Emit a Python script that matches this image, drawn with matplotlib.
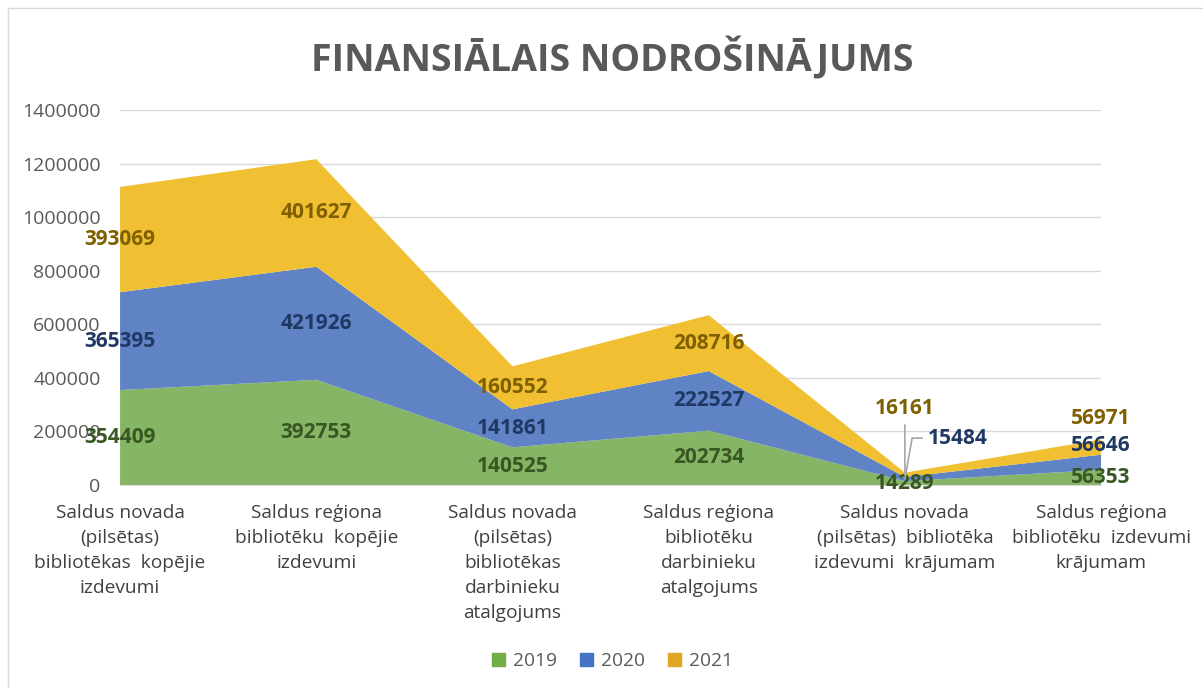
import numpy as np
import matplotlib
matplotlib.use("Agg")
import matplotlib.pyplot as plt
from matplotlib.patches import Rectangle, Patch

plt.rcParams['font.family'] = ['Open Sans', 'DejaVu Sans']

# categories (x axis), one list per year
categories = [
    "Saldus novada\n(pilsētas)\nbibliotēkas  kopējie\nizdevumi",
    "Saldus reģiona\nbibliotēku  kopējie\nizdevumi",
    "Saldus novada\n(pilsētas)\nbibliotēkas\ndarbinieku\natalgojums",
    "Saldus reģiona\nbibliotēku\ndarbinieku\natalgojums",
    "Saldus novada\n(pilsētas)  bibliotēka\nizdevumi  krājumam",
    "Saldus reģiona\nbibliotēku  izdevumi\nkrājumam",
]
years = ["2019", "2020", "2021"]
v2019 = [354409, 392753, 140525, 202734, 14289, 56353]
v2020 = [365395, 421926, 141861, 222527, 15484, 56646]
v2021 = [393069, 401627, 160552, 208716, 16161, 56971]

fill_colors = ['#86b565', '#5f83c5', '#f0c032']
legend_colors = ['#70ad47', '#4472c4', '#e0a820']
label_colors = ['#385723', '#203864', '#7f6000']

fig = plt.figure(figsize=(12.03, 6.88), dpi=100)
ax = fig.add_axes([0.0998, 0.2951, 0.8155, 0.545])

x = np.arange(len(categories))
data = np.array([v2019, v2020, v2021])
ax.stackplot(x, data, colors=fill_colors, zorder=2)

# data labels in the middle of each band
bottoms = np.vstack([np.zeros(len(x)), np.cumsum(data, axis=0)[:-1]])
# tweaks (pixels) for the crowded points
offsets = {(1, 4): (53, 41), (2, 4): (0, 66), (1, 5): (0, 17), (2, 5): (0, 29)}
for i in range(3):
    for j in range(len(x)):
        mid = bottoms[i][j] + data[i][j] / 2
        dx, dy = offsets.get((i, j), (0, 0))
        kw = {}
        if j == 4 and i == 2:
            kw['arrowprops'] = dict(arrowstyle='-', color='#a6a6a6', lw=1.2,
                                    shrinkA=2, shrinkB=0)
        elif j == 4 and i == 1:
            kw['arrowprops'] = dict(arrowstyle='-', color='#a6a6a6', lw=1.2,
                                    shrinkA=2, shrinkB=0,
                                    connectionstyle='angle,angleA=180,angleB=80,rad=0')
        ax.annotate(str(data[i][j]), (x[j], mid), xytext=(dx, dy),
                    textcoords='offset pixels', ha='center', va='center',
                    fontsize=15, fontweight='bold', color=label_colors[i],
                    zorder=5, **kw)

ax.set_xlim(0, len(x) - 1)
ax.set_ylim(0, 1400000)
ax.set_yticks(np.arange(0, 1400001, 200000))
ax.set_yticklabels([str(v) for v in range(0, 1400001, 200000)])
ax.set_xticks(x)
ax.set_xticklabels(categories, linespacing=1.5, va='top')
ax.tick_params(axis='y', length=0, pad=14, labelsize=14, labelcolor='#595959')
ax.tick_params(axis='x', length=0, pad=14, labelsize=13.8, labelcolor='#404040')
ax.grid(axis='y', color='#d9d9d9', lw=1, zorder=0)
ax.set_axisbelow(True)
for s in ['left', 'right', 'top']:
    ax.spines[s].set_visible(False)
ax.spines['bottom'].set_color('#d9d9d9')

fig.text(0.509, 0.915, 'FINANSIĀLAIS NODROŠINĀJUMS', ha='center', va='center',
         fontsize=27, fontweight='bold', color='#595959')

handles = [Patch(color=c) for c in legend_colors]
fig.legend(handles, years, loc='center', bbox_to_anchor=(0.509, 0.039), ncol=3,
           frameon=False, fontsize=13.8, labelcolor='#595959', handlelength=0.7,
           handleheight=0.7, handletextpad=0.4, columnspacing=1.2)

# chart border
fig.patches.append(Rectangle((8 / 1203, -0.1), 1.2, 1 - 8 / 688 + 0.1,
                             transform=fig.transFigure, fill=False,
                             edgecolor='#d9d9d9', lw=1))

fig.savefig('out.png', dpi=100)
